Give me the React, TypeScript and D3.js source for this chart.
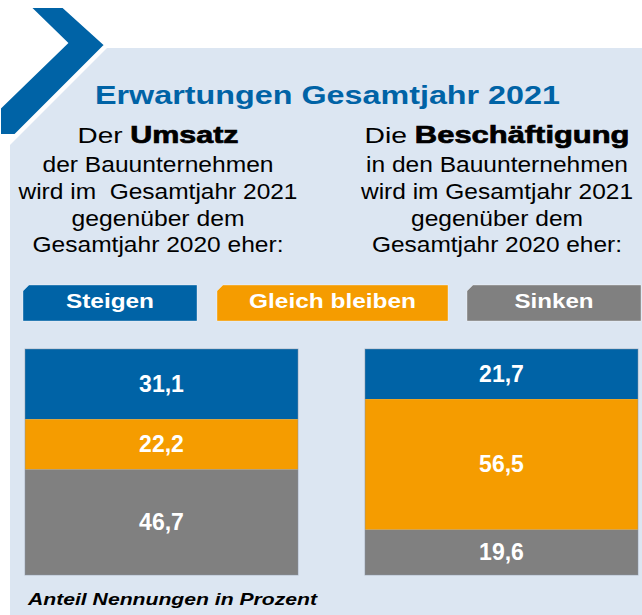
import React from 'react'
import * as d3 from 'd3'

// chart data
const bars = ['Umsatz', 'Beschäftigung']
const categories = ['Steigen', 'Gleich bleiben', 'Sinken']
const umsatzValues = [31.1, 22.2, 46.7]
const beschaeftigungValues = [21.7, 56.5, 19.6]
const seriesValues = [umsatzValues, beschaeftigungValues]
const colors = ['#0063a6', '#f59c00', '#808080']

const title = 'Erwartungen Gesamtjahr 2021'
const footnote = 'Anteil Nennungen in Prozent'
const leftIntro = ['Der ', 'Umsatz']
const rightIntro = ['Die ', 'Beschäftigung']
const leftLines = ['der Bauunternehmen', 'wird im  Gesamtjahr 2021', 'gegenüber dem', 'Gesamtjahr 2020 eher:']
const rightLines = ['in den Bauunternehmen', 'wird im Gesamtjahr 2021', 'gegenüber dem', 'Gesamtjahr 2020 eher:']

const W = 642
const H = 615
const FONT = '"Liberation Sans", Arial, sans-serif'
const PANEL = '#dce6f2'

const leftWidths = [161, 231, 279, 173, 251]
const rightWidths = [265, 262, 272, 172, 250]
const legendBoxes = [[23, 197], [217, 448], [467, 641]]
const legendTextWidths = [88, 167, 79]

const App = () => {
  const x = d3.scaleBand().domain(bars).range([25, 638]).paddingInner(0.197).paddingOuter(0)
  const top = 349
  const bottom = 575
  const lineY = [143, 172, 199, 226, 252]

  const chevron = d3.line()([[30, 7], [63, 7], [105, 45], [15, 135], [0, 135], [0, 108], [67, 43]]) + 'Z'
  const panel = d3.line()([[107, 48], [W, 48], [W, H], [10, H], [10, 145]]) + 'Z'

  const block = (cx, intro, lines, widths) => (
    <g fontFamily={FONT} fill="#000" textAnchor="middle">
      <text x={cx} y={lineY[0]} fontSize={22} textLength={widths[0]} lengthAdjust="spacingAndGlyphs">
        <tspan>{intro[0]}</tspan>
        <tspan fontWeight="900" fontSize={24} stroke="#000" strokeWidth={0.7}>{intro[1]}</tspan>
      </text>
      {lines.map((l, i) => (
        <text key={i} x={cx} y={lineY[i + 1]} fontSize={22} textLength={widths[i + 1]}
          lengthAdjust="spacingAndGlyphs" style={{ whiteSpace: 'pre' }}>{l}</text>
      ))}
    </g>
  )

  return (
    <svg width={W} height={H} style={{ position: 'absolute', left: 0, top: 0, background: '#fff' }}>
      <path d={panel} fill={PANEL} />
      <path d={chevron} fill="#0063a6" stroke="#fff" strokeWidth={2} />

      <text x={327.5} y={104} textAnchor="middle" fontFamily={FONT} fontWeight="bold" fontSize={25}
        fill="#0063a6" textLength={465} lengthAdjust="spacingAndGlyphs">{title}</text>

      {block(158, leftIntro, leftLines, leftWidths)}
      {block(497, rightIntro, rightLines, rightWidths)}

      {categories.map((c, i) => {
        const [x0, x1] = legendBoxes[i]
        const y0 = 285
        const y1 = 321
        const b = 6
        const d = d3.line()([[x0, y0 + b], [x0 + b, y0], [x1, y0], [x1, y1], [x0, y1]]) + 'Z'
        return (
          <g key={c}>
            <path d={d} fill={colors[i]} stroke="#fff" strokeOpacity={0.35} strokeWidth={1} />
            <text x={(x0 + x1) / 2} y={308} textAnchor="middle" fontFamily={FONT} fontWeight="bold"
              fontSize={21} fill="#fff" textLength={legendTextWidths[i]} lengthAdjust="spacingAndGlyphs">{c}</text>
          </g>
        )
      })}

      {bars.map((bar, bi) => {
        const vals = seriesValues[bi]
        const y = d3.scaleLinear().domain([0, d3.sum(vals)]).range([top, bottom])
        const stack = d3.cumsum(vals)
        return (
          <g key={bar}>
            {vals.map((v, i) => {
              const y0 = y(stack[i] - v)
              const y1 = y(stack[i])
              return (
                <g key={i}>
                  <rect x={x(bar)} y={y0} width={x.bandwidth()} height={y1 - y0} fill={colors[i]} />
                  <text x={x(bar) + x.bandwidth() / 2} y={(y0 + y1) / 2 + 8} textAnchor="middle"
                    fontFamily={FONT} fontWeight="bold" fontSize={23} fill="#fff">
                    {d3.format('.1f')(v).replace('.', ',')}
                  </text>
                </g>
              )
            })}
            <rect x={x(bar)} y={top} width={x.bandwidth()} height={bottom - top} fill="none"
              stroke="#8a94a6" strokeOpacity={0.5} strokeWidth={1} />
          </g>
        )
      })}

      <text x={28} y={605} fontFamily={FONT} fontWeight="bold" fontStyle="italic" fontSize={17} fill="#000"
        textLength={289} lengthAdjust="spacingAndGlyphs">{footnote}</text>
    </svg>
  )
}

export default App
